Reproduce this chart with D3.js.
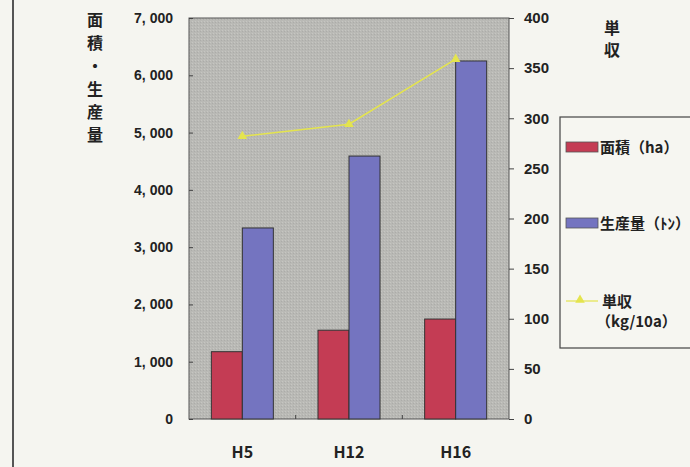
<!DOCTYPE html>
<html>
<head>
<meta charset="utf-8">
<script src="https://cdn.jsdelivr.net/npm/d3@7"></script>
<style>
  html, body { margin: 0; padding: 0; background: #f5f5f0; }
  svg { display: block; }
  text { font-family: "Noto Sans CJK JP", "Liberation Sans", sans-serif; font-weight: bold; fill: #222; }
</style>
</head>
<body>
<svg id="chart" width="690" height="467"></svg>
<script>
/* global d3 */
const
  W = 690, H = 467,
  plotLeft = 189, plotRight = 509, // plot area edges
  plotTop = 18, plotBottom = 419;

// data
const categories = ['H5', 'H12', 'H16'];
const areaHa = [1175, 1550, 1745];
const productionT = [3335, 4590, 6250];
const yieldKg = [282, 294, 359];
const leftTicks = [0, 1000, 2000, 3000, 4000, 5000, 6000, 7000];
const rightTicks = [0, 50, 100, 150, 200, 250, 300, 350, 400];
const seriesKeys = ['area', 'production'];
const seriesColors = ['#c43c54', '#7474c0'];
const lineColor = '#e4e44e';

const svg = d3.select('#chart');

svg.append('rect').attr('width', W).attr('height', H).attr('fill', '#f5f5f0');

// left frame line of the scanned page
svg.append('line').
  attr('x1', 13).attr('x2', 13).attr('y1', 0).attr('y2', H).
  attr('stroke', '#555').attr('stroke-width', 2);

const x0 = d3.scaleBand().domain(categories).range([plotLeft, plotRight]);
const x1 = d3.scaleBand().domain(seriesKeys).range([0, x0.bandwidth()]).paddingOuter(0.72);
const yLeft = d3.scaleLinear().domain([0, 7000]).range([plotBottom, plotTop]);
const yRight = d3.scaleLinear().domain([0, 400]).range([plotBottom, plotTop]);

// plot background with a faint print texture
const defs = svg.append('defs');
const pat = defs.append('pattern').attr('id', 'grain').
  attr('width', 3).attr('height', 3).attr('patternUnits', 'userSpaceOnUse');
pat.append('rect').attr('width', 3).attr('height', 3).attr('fill', '#b9b9b5');
pat.append('rect').attr('width', 1).attr('height', 1).attr('fill', '#c6c6c2');
pat.append('rect').attr('x', 2).attr('y', 1).attr('width', 1).attr('height', 1).attr('fill', '#acaca9');

svg.append('rect').
  attr('x', plotLeft).attr('y', plotTop).
  attr('width', plotRight - plotLeft).attr('height', plotBottom - plotTop).
  attr('fill', 'url(#grain)').attr('stroke', '#555').attr('stroke-width', 1);

// bars
const rows = categories.map((c, i) => ({ cat: c, area: areaHa[i], production: productionT[i] }));
const groups = svg.append('g').selectAll('g').data(rows).join('g').
  attr('transform', d => 'translate(' + x0(d.cat) + ',0)');
groups.selectAll('rect').
  data(d => seriesKeys.map((k, j) => ({ key: k, value: d[k], color: seriesColors[j] }))).
  join('rect').
  attr('x', d => x1(d.key)).
  attr('y', d => yLeft(d.value)).
  attr('width', x1.bandwidth()).
  attr('height', d => plotBottom - yLeft(d.value)).
  attr('fill', d => d.color).
  attr('stroke', '#333').attr('stroke-width', 1);

// category separator ticks
svg.append('g').selectAll('line').data(categories.slice(1)).join('line').
  attr('x1', d => x0(d)).attr('x2', d => x0(d)).
  attr('y1', plotBottom).attr('y2', plotBottom - 4).
  attr('stroke', '#444');

// yield line
const cx = d => x0(d) + x0.bandwidth() / 2;
const linePts = categories.map((c, i) => [cx(c), yRight(yieldKg[i])]);
svg.append('path').datum(linePts).
  attr('d', d3.line()).attr('fill', 'none').
  attr('stroke', lineColor).attr('stroke-width', 1.6);
const tri = d3.symbol().type(d3.symbolTriangle).size(40);
svg.append('g').selectAll('path').data(linePts).join('path').
  attr('transform', d => 'translate(' + d[0] + ',' + d[1] + ')').
  attr('d', tri).attr('fill', lineColor);

// axes
const leftAxis = d3.axisLeft(yLeft).tickValues(leftTicks).tickSize(-4).tickPadding(16).
  tickFormat(d => d3.format(',')(d).replace(',', ', '));
const gl = svg.append('g').attr('transform', 'translate(' + plotLeft + ',0)').call(leftAxis);
gl.select('.domain').remove();
gl.selectAll('line').attr('stroke', '#444');
gl.selectAll('text').style('font-size', '14px').style('font-family', '"Liberation Sans", sans-serif').
  style('font-weight', 'bold').attr('fill', '#222');

const rightAxis = d3.axisRight(yRight).tickValues(rightTicks).tickSize(5).tickPadding(10);
const gr = svg.append('g').attr('transform', 'translate(' + plotRight + ',0)').call(rightAxis);
gr.select('.domain').remove();
gr.selectAll('line').attr('stroke', '#444');
gr.selectAll('text').style('font-size', '15px').style('font-family', '"Liberation Sans", sans-serif').
  style('font-weight', 'bold').attr('fill', '#222');

// category labels
svg.append('g').selectAll('text').data(categories).join('text').
  attr('x', d => cx(d)).attr('y', 458).
  attr('text-anchor', 'middle').style('font-size', '16px').
  text(d => d);

// vertical axis titles
const leftTitle = ['面', '積', '・', '生', '産', '量'];
svg.append('g').selectAll('text').data(leftTitle).join('text').
  attr('x', 95).attr('y', (d, i) => 26 + i * 23).
  attr('text-anchor', 'middle').style('font-size', '16px').
  text(d => d);
const rightTitle = ['単', '収'];
svg.append('g').selectAll('text').data(rightTitle).join('text').
  attr('x', 612).attr('y', (d, i) => 34 + i * 22).
  attr('text-anchor', 'middle').style('font-size', '16px').
  text(d => d);

// legend
const lg = svg.append('g').attr('transform', 'translate(560,117)');
lg.append('rect').attr('width', 140).attr('height', 231).
  attr('fill', '#f6f6f1').attr('stroke', '#444').attr('stroke-width', 1.2);
const legendLabels = ['面積（ha）', '生産量（ﾄﾝ）'];
lg.selectAll('.sw').data(legendLabels).join('rect').attr('class', 'sw').
  attr('x', 6).attr('y', (d, i) => 25 + i * 76).
  attr('width', 32).attr('height', 10).
  attr('fill', (d, i) => seriesColors[i]).attr('stroke', '#555').attr('stroke-width', 0.8);
lg.selectAll('.lt').data(legendLabels).join('text').attr('class', 'lt').
  attr('x', 40).attr('y', (d, i) => 36 + i * 76).
  style('font-size', '15px').
  text(d => d);
lg.append('line').attr('x1', 6).attr('x2', 38).attr('y1', 184).attr('y2', 184).
  attr('stroke', lineColor).attr('stroke-width', 1.2);
lg.append('path').attr('transform', 'translate(20,183)').attr('d', tri).attr('fill', lineColor);
lg.append('text').attr('x', 42).attr('y', 190).style('font-size', '15px').text('単収');
lg.append('text').attr('x', 36).attr('y', 210).style('font-size', '15px').text('（kg/10a）');
</script>
</body>
</html>
